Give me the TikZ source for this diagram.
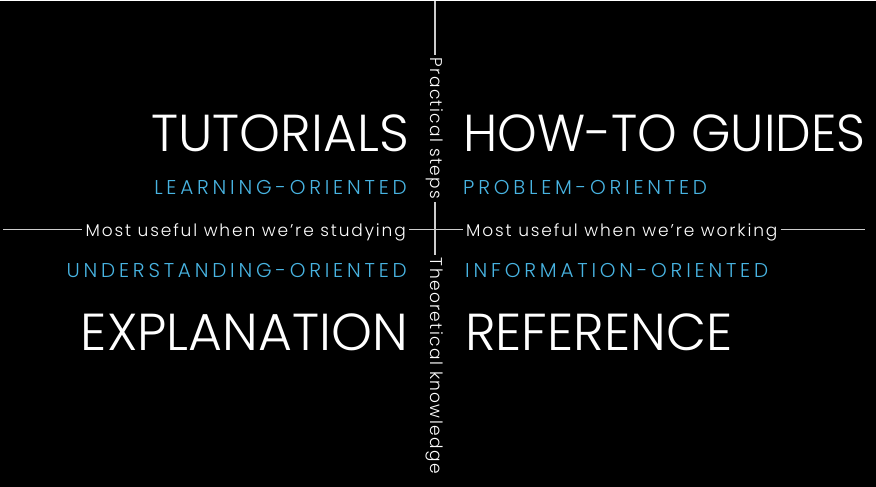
\documentclass[tikz,border=0pt]{standalone}
\usepackage{fontspec}
\setmainfont{Poppins Light}
\definecolor{oriented}{RGB}{72,180,226}
\definecolor{rulegray}{RGB}{205,205,205}
\begin{document}
\begin{tikzpicture}
[
	x=1pt,y=-1pt,
	quadrant/.style={text=white,inner sep=0pt,font=\fontsize{52}{60}\selectfont},
	oriented/.style={text=oriented,inner sep=0pt,font=\fontsize{20}{24}\selectfont\addfontfeatures{LetterSpace=19}},
	useful/.style={text=white,inner xsep=3pt,inner ysep=0pt,text height=15pt,text depth=2pt,font=\fontsize{17}{20}\selectfont\addfontfeatures{LetterSpace=11}},
	axisname/.style={useful,rotate=-90,text height=9pt,text depth=0pt,font=\fontsize{17}{20}\selectfont\addfontfeatures{LetterSpace=8}},
	rule/.style={draw=rulegray,line width=1.3pt}
]

	\fill[black] (0,0) rectangle (876,486);

	% quadrants
	\node[quadrant,anchor=base east] at (409,151) (tutorials) {TUTORIALS};
	\node[quadrant,anchor=base west] at (463,151) (howto) {\scalebox{0.97}[1]{HOW-TO GUIDES}};
	\node[quadrant,anchor=base east] at (408,350) (explanation) {EXPLANATION};
	\node[quadrant,anchor=base west] at (465,350) (reference) {REFERENCE};

	\node[oriented,anchor=base east] at (407,194) (learning) {LEARNING-ORIENTED};
	\node[oriented,anchor=base west] at (463,194) (problem) {PROBLEM-ORIENTED};
	\node[oriented,anchor=base east] at (407,277) (understanding) {UNDERSTANDING-ORIENTED};
	\node[oriented,anchor=base west] at (465,277) (information) {INFORMATION-ORIENTED};

	% axes
	\coordinate (left) at (3,229);
	\coordinate (right) at (865,229);
	\coordinate (top) at (435,0);
	\node[useful,anchor=east] at (409,229) (studying) {Most useful when we’re studying};
	\node[useful,anchor=west] at (463,229) (working) {Most useful when we’re working};
	\node[axisname,anchor=west] at (435,54) (practical) {Practical steps};
	\node[axisname,anchor=west] at (435,254) (theoretical) {Theoretical knowledge};

	\draw[rule] (left) -- (studying);
	\draw[rule] (studying) -- (working);
	\draw[rule] (working) -- (right);
	\draw[rule] (top) -- (practical);
	\draw[rule] (practical) -- (theoretical);

\end{tikzpicture}
\end{document}
